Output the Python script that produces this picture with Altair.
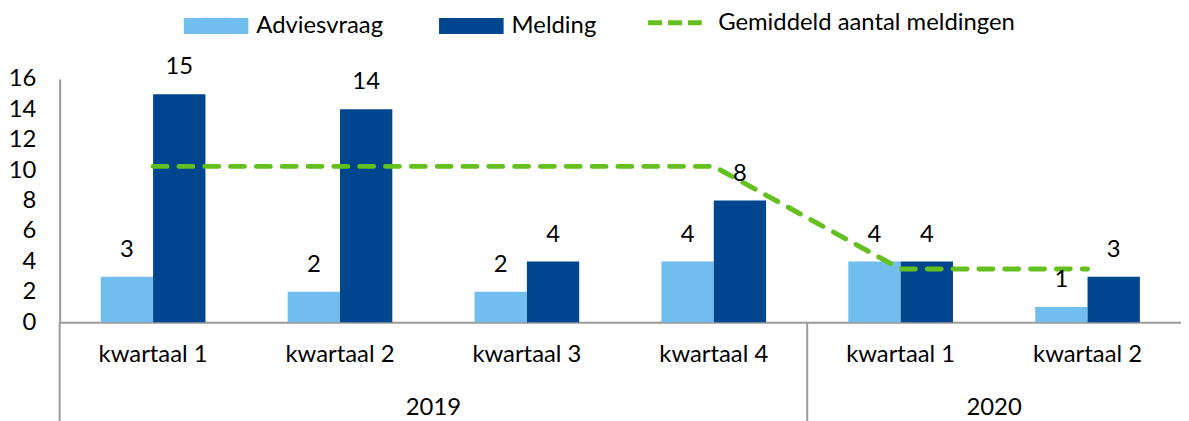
import altair as alt
import pandas as pd

years = ["2019", "2019", "2019", "2019", "2020", "2020"]
quarters = ["kwartaal 1", "kwartaal 2", "kwartaal 3", "kwartaal 4", "kwartaal 1", "kwartaal 2"]
advies = [3, 2, 2, 4, 4, 1]
melding = [15, 14, 4, 8, 4, 3]
gemiddeld = [10.25, 10.25, 10.25, 10.25, 3.5, 3.5]
year_names = ["2019", "2020"]
year_quarter_counts = [4, 2]
series_names = ["Adviesvraag", "Melding"]
line_name = "Gemiddeld aantal meldingen"
y_ticks = [0, 2, 4, 6, 8, 10, 12, 14, 16]

keys = [f"{y}|{q}" for y, q in zip(years, quarters)]
bars_df = pd.DataFrame([
    {"key": k, "series": s, "value": v}
    for s, vals in zip(series_names, [advies, melding])
    for k, v in zip(keys, vals)
])
line_df = pd.DataFrame({"key": keys, "value": gemiddeld, "name": [line_name] * len(keys)})
starts = []
acc = 0
for c in year_quarter_counts:
    starts.append(acc)
    acc += c
total = acc
year_df = pd.DataFrame({"year": year_names,
                        "mid": [s + c / 2 for s, c in zip(starts, year_quarter_counts)]})
sep_df = pd.DataFrame({"pos": starts})

W, H = 1129, 245
FONT = "Lato"
FS = 24
AXIS_GRAY = "#9a9a9a"

x_axis = alt.Axis(title=None, labelExpr="split(datum.label, '|')[1]",
                  labelAngle=0, labelFontSize=FS, labelPadding=20,
                  ticks=False, domainColor=AXIS_GRAY, domainWidth=2,
                  labelColor="black", labelFont=FONT)
x_band = alt.X("key:N", sort=keys,
               scale=alt.Scale(paddingInner=0.44, paddingOuter=0.22), axis=x_axis)
y_axis = alt.Axis(values=y_ticks, tickCount=9, title=None, grid=False,
                  ticks=False, labelFontSize=FS, labelPadding=24,
                  labelOverlap=False, labelFlush=False,
                  domainColor=AXIS_GRAY, domainWidth=2,
                  labelColor="black", labelFont=FONT)
y_enc = alt.Y("value:Q", scale=alt.Scale(domain=[0, 16]), axis=y_axis)
color_enc = alt.Color("series:N",
                      scale=alt.Scale(domain=series_names, range=["#71BDED", "#00468F"]),
                      legend=alt.Legend(orient="none", legendX=125, legendY=-86,
                                        direction="horizontal", title=None,
                                        symbolType="M-1,-0.25H1V0.25H-1Z", symbolSize=4225,
                                        symbolStrokeWidth=0, symbolOpacity=1,
                                        labelFontSize=FS, labelFont=FONT, labelColor="black",
                                        labelLimit=400, columnPadding=56, labelOffset=8))

bars = alt.Chart(bars_df).mark_bar().encode(
    x=x_band, y=y_enc, xOffset=alt.XOffset("series:N", sort=series_names), color=color_enc)

labels = alt.Chart(bars_df).mark_text(fontSize=FS, font=FONT, color="black",
                                      baseline="middle", dy=-27).encode(
    x=x_band, y=y_enc,
    xOffset=alt.XOffset("series:N", sort=series_names), text="value:Q")

line = alt.Chart(line_df).mark_line(strokeWidth=5, strokeDash=[14, 12], strokeCap="round").encode(
    x=x_band, y=y_enc,
    stroke=alt.Stroke("name:N", scale=alt.Scale(domain=[line_name], range=["#63C01E"]),
                      legend=alt.Legend(orient="none", legendX=590, legendY=-86,
                                        title=None, symbolType="stroke",
                                        symbolStrokeWidth=5, symbolDash=[14, 6],
                                        symbolSize=2916, labelFontSize=FS, labelFont=FONT,
                                        labelColor="black", labelOffset=14, labelLimit=500)))

main = alt.layer(bars, line, labels)

xq = alt.X("pos:Q", scale=alt.Scale(domain=[0, total]), axis=None)
seps = alt.Chart(sep_df).mark_rule(color=AXIS_GRAY, strokeWidth=2).encode(
    x=xq, y=alt.value(H), y2=alt.value(H + 100))
year_text = alt.Chart(year_df).mark_text(fontSize=FS, font=FONT, color="black",
                                         baseline="middle").encode(
    x=alt.X("mid:Q", scale=alt.Scale(domain=[0, total]), axis=None),
    y=alt.value(H + 86), text="year:N")
years_layer = alt.layer(seps, year_text)

chart = alt.layer(main, years_layer).resolve_scale(x="independent").properties(
    width=W, height=H,
    autosize=alt.AutoSizeParams(type="none"),
    padding={"left": 52, "top": 70, "right": 0, "bottom": 100}
).configure_view(stroke=None)

chart.save("out.html", embed_options={"renderer": "svg", "actions": False})
